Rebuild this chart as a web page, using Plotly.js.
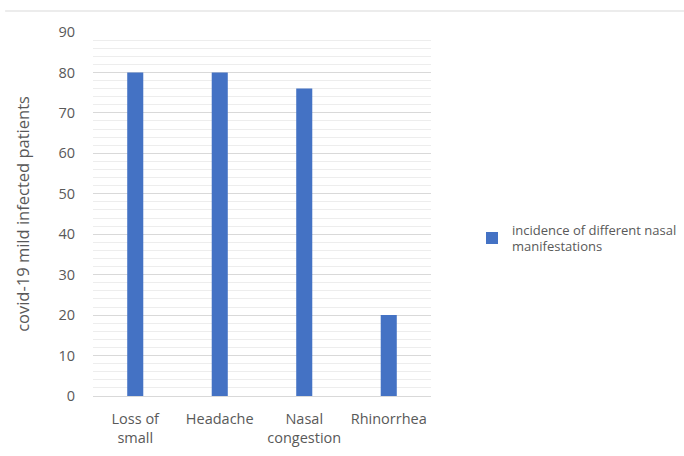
<!DOCTYPE html>
<html>
<head>
<meta charset="utf-8">
<script src="https://cdn.plot.ly/plotly-3.0.1.min.js"></script>
<style>html,body{margin:0;padding:0;background:#fff;}#chart{width:684px;height:456px;}</style>
</head>
<body>
<div id="chart"></div>
<script>
const categories = ["Loss of<br>small", "Headache", "Nasal<br>congestion", "Rhinorrhea"];
const values = [80, 80, 76, 20];
const seriesName = "incidence of different nasal<br>manifestations";
const yTitle = "covid-19 mild infected patients";

const font = "Open Sans, Liberation Sans, sans-serif";
const trace = {
  type: "bar",
  x: categories,
  y: values,
  name: seriesName,
  marker: {color: "#4472C4"},
  showlegend: true,
  hoverinfo: "none"
};
const layout = {
  width: 684, height: 456,
  margin: {l: 93, r: 253, t: 32, b: 60},
  paper_bgcolor: "#fff", plot_bgcolor: "#fff",
  bargap: 0.81,
  font: {family: font, color: "#595959", size: 14},
  xaxis: {
    tickfont: {family: font, size: 14.5, color: "#595959"},
    showgrid: false, zeroline: false, showline: false,
    ticks: "outside", ticklen: 10, tickcolor: "rgba(0,0,0,0)",
    fixedrange: true, automargin: false
  },
  yaxis: {
    range: [0, 90],
    dtick: 10,
    tickfont: {family: font, size: 14.5, color: "#595959"},
    gridcolor: "#d9d9d9", gridwidth: 1,
    zeroline: true, zerolinecolor: "#d9d9d9", zerolinewidth: 1,
    showline: false,
    ticks: "outside", ticklen: 14, tickcolor: "rgba(0,0,0,0)",
    minor: {dtick: 2, showgrid: true, gridcolor: "#ededed", gridwidth: 1},
    title: {text: yTitle, font: {family: font, size: 16.5, color: "#595959"}, standoff: 24},
    fixedrange: true, automargin: false
  },
  legend: {
    xref: "container", yref: "container",
    x: 472/684, xanchor: "left", y: 1 - 238/456, yanchor: "middle",
    font: {family: font, size: 13, color: "#595959"},
    itemwidth: 30, tracegroupgap: 0
  },
  shapes: [{
    type: "line", xref: "paper", yref: "paper",
    x0: -0.26, x1: 1.8, y0: 1 + 21/364, y1: 1 + 21/364,
    line: {color: "#d9d9d9", width: 1}
  }]
};
Plotly.newPlot("chart", [trace], layout, {displayModeBar: false, staticPlot: true});
</script>
</body>
</html>
